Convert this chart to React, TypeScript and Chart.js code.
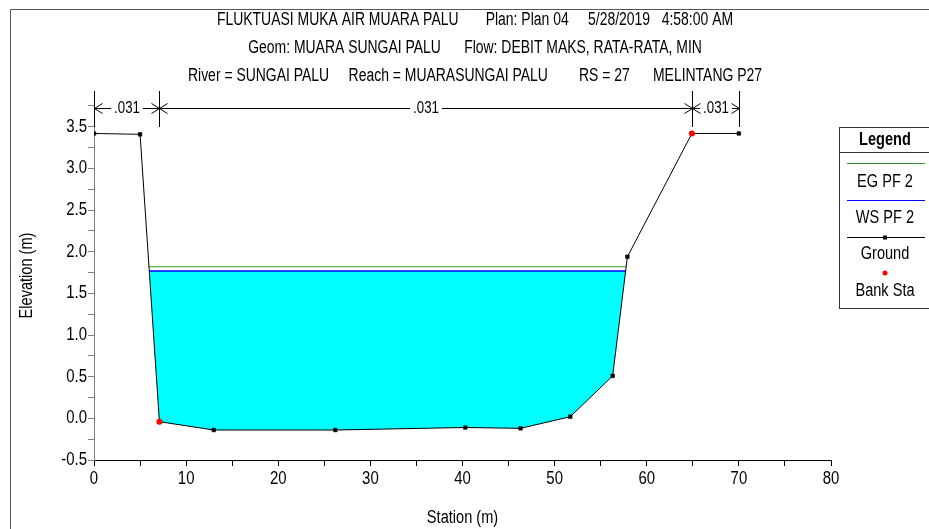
import React, { useEffect, useRef } from 'react';
import { Chart, registerables } from 'chart.js';

Chart.register(...registerables);

// ---------- data ----------
const titleLines = [
  'FLUKTUASI MUKA AIR MUARA PALU       Plan: Plan 04     5/28/2019   4:58:00 AM',
  'Geom: MUARA SUNGAI PALU      Flow: DEBIT MAKS, RATA-RATA, MIN',
  'River = SUNGAI PALU     Reach = MUARASUNGAI PALU        RS = 27      MELINTANG P27',
];
const stations = [0, 5, 7.1, 13, 26.2, 40.3, 46.3, 51.7, 56.3, 57.9, 64.9, 70];
const groundElev = [3.42, 3.41, -0.04, -0.14, -0.14, -0.11, -0.12, 0.02, 0.51, 1.94, 3.42, 3.42];
const bankStations = [7.1, 64.9];
const wsElev = 1.77;
const egElev = 1.82;
const manningBreaks = [0, 7.1, 64.9, 70];
const manningValues = ['.031', '.031', '.031'];
const xTickValues = [0, 5, 10, 15, 20, 25, 30, 35, 40, 45, 50, 55, 60, 65, 70, 75, 80];
const xLabelValues = [0, 10, 20, 30, 40, 50, 60, 70, 80];
const yTickValues = [-0.5, -0.25, 0, 0.25, 0.5, 0.75, 1, 1.25, 1.5, 1.75, 2, 2.25, 2.5, 2.75, 3, 3.25, 3.5, 3.75];
const yLabelValues = [-0.5, 0, 0.5, 1, 1.5, 2, 2.5, 3, 3.5];
const xTitle = 'Station (m)';
const yTitle = 'Elevation (m)';
const legendTitle = 'Legend';
const legendLabels = ['EG PF 2', 'WS PF 2', 'Ground', 'Bank Sta'];

const FAMILY = '"Liberation Sans", Arial, sans-serif';
const NARROW = 0.81;
const EG_COLOR = '#2e9a2e';
const WS_COLOR = '#0000ff';
const WATER_COLOR = '#00ffff';

function crossLeft(level: number): number {
  for (let i = 0; i < stations.length - 1; i++) {
    const a = groundElev[i], b = groundElev[i + 1];
    if (a >= level && b < level) return stations[i] + ((a - level) / (a - b)) * (stations[i + 1] - stations[i]);
  }
  return stations[0];
}
function crossRight(level: number): number {
  for (let i = stations.length - 2; i >= 0; i--) {
    const a = groundElev[i], b = groundElev[i + 1];
    if (a < level && b >= level) return stations[i] + ((level - a) / (b - a)) * (stations[i + 1] - stations[i]);
  }
  return stations[stations.length - 1];
}

function narrowText(
  ctx: CanvasRenderingContext2D, text: string, x: number, y: number,
  font: string, align: CanvasTextAlign = 'center', rot = 0, sx = NARROW,
) {
  ctx.save();
  ctx.font = font;
  ctx.textAlign = align;
  ctx.textBaseline = 'middle';
  ctx.translate(x, y);
  if (rot) ctx.rotate(rot);
  ctx.scale(sx, 1);
  ctx.fillText(text, 0, 0);
  ctx.restore();
}

function narrowWidth(ctx: CanvasRenderingContext2D, text: string, font: string, sx = NARROW) {
  ctx.save();
  ctx.font = font;
  const w = ctx.measureText(text).width * sx;
  ctx.restore();
  return w;
}

const overlay = {
  id: 'hecrasOverlay',
  afterDraw(chart: any) {
    const ctx: CanvasRenderingContext2D = chart.ctx;
    const xs = chart.scales.x;
    const ys = chart.scales.y;
    const area = chart.chartArea;
    ctx.save();
    // outer frame
    ctx.strokeStyle = '#555';
    ctx.lineWidth = 1;
    ctx.beginPath();
    ctx.moveTo(10.5, chart.height);
    ctx.lineTo(10.5, 9.5);
    ctx.lineTo(chart.width, 9.5);
    ctx.stroke();

    ctx.fillStyle = '#000';
    // titles
    const titleFont = `18px ${FAMILY}`;
    const titleY = [20, 48.5, 76.5];
    titleLines.forEach((t, i) => narrowText(ctx, t, 475, titleY[i], titleFont, 'center', 0, 0.775));

    // tick labels
    const tickFont = `18px ${FAMILY}`;
    xLabelValues.forEach((v) => narrowText(ctx, String(v), xs.getPixelForValue(v), area.bottom + 19.5, tickFont, 'center', 0, 0.83));
    yLabelValues.forEach((v) => narrowText(ctx, v.toFixed(1), area.left - 7, ys.getPixelForValue(v), tickFont, 'right', 0, 0.83));

    // axis titles
    narrowText(ctx, xTitle, (area.left + area.right) / 2, 518, `18px ${FAMILY}`);
    narrowText(ctx, yTitle, 27, (area.top + area.bottom) / 2, `18px ${FAMILY}`, 'center', -Math.PI / 2);

    // manning n markers
    ctx.strokeStyle = '#000';
    ctx.lineWidth = 1;
    const my = 108;
    const mFont = `17px ${FAMILY}`;
    manningBreaks.forEach((s) => {
      const px = Math.round(xs.getPixelForValue(s)) + 0.5;
      ctx.beginPath();
      ctx.moveTo(px, area.top);
      ctx.lineTo(px, area.top + 36);
      ctx.stroke();
    });
    for (let i = 0; i < manningValues.length; i++) {
      const l = Math.round(xs.getPixelForValue(manningBreaks[i])) + 0.5;
      const r = Math.round(xs.getPixelForValue(manningBreaks[i + 1])) + 0.5;
      const c = (l + r) / 2;
      const w = narrowWidth(ctx, manningValues[i], mFont, 0.78);
      narrowText(ctx, manningValues[i], c, my, mFont, 'center', 0, 0.78);
      ctx.beginPath();
      ctx.moveTo(l, my + 0.5);
      ctx.lineTo(c - w / 2 - 3, my + 0.5);
      ctx.moveTo(c + w / 2 + 3, my + 0.5);
      ctx.lineTo(r, my + 0.5);
      ctx.moveTo(l + 8, my - 4.5);
      ctx.lineTo(l, my + 0.5);
      ctx.lineTo(l + 8, my + 5.5);
      ctx.moveTo(r - 8, my - 4.5);
      ctx.lineTo(r, my + 0.5);
      ctx.lineTo(r - 8, my + 5.5);
      ctx.stroke();
    }

    // legend box
    const bl = 839.5, bt = 127.5, br = chart.width + 5, bb = 308.5;
    ctx.fillStyle = '#fff';
    ctx.fillRect(bl, bt, br - bl, bb - bt);
    ctx.strokeStyle = '#333';
    ctx.strokeRect(bl, bt, br - bl, bb - bt);
    ctx.beginPath();
    ctx.moveTo(bl, 152.5);
    ctx.lineTo(br, 152.5);
    ctx.stroke();
    const cx = 885;
    const lf = `18px ${FAMILY}`;
    ctx.fillStyle = '#000';
    narrowText(ctx, legendTitle, cx, 140, `bold 18px ${FAMILY}`);
    ctx.lineWidth = 1;
    ctx.strokeStyle = EG_COLOR;
    ctx.beginPath(); ctx.moveTo(847, 163.5); ctx.lineTo(925, 163.5); ctx.stroke();
    narrowText(ctx, legendLabels[0], cx, 182, lf);
    ctx.strokeStyle = WS_COLOR;
    ctx.beginPath(); ctx.moveTo(847, 200.5); ctx.lineTo(925, 200.5); ctx.stroke();
    narrowText(ctx, legendLabels[1], cx, 218, lf);
    ctx.strokeStyle = '#000';
    ctx.beginPath(); ctx.moveTo(847, 237.5); ctx.lineTo(925, 237.5); ctx.stroke();
    ctx.fillRect(cx - 2, 235.5, 4, 4);
    narrowText(ctx, legendLabels[2], cx, 254, lf);
    ctx.fillStyle = '#ff0000';
    ctx.beginPath(); ctx.arc(cx, 273, 2.5, 0, Math.PI * 2); ctx.fill();
    ctx.fillStyle = '#000';
    narrowText(ctx, legendLabels[3], cx, 291, lf);
    ctx.restore();
  },
};

export default function App() {
  const ref = useRef<HTMLCanvasElement | null>(null);
  useEffect(() => {
    if (!ref.current) return;
    const wl = crossLeft(wsElev), wr = crossRight(wsElev);
    const el = crossLeft(egElev), er = crossRight(egElev);
    const groundPts = stations.map((s, i) => ({ x: s, y: groundElev[i] }));
    const waterPts = [
      { x: wl, y: wsElev },
      ...groundPts.filter((p) => p.x > wl && p.x < wr),
      { x: wr, y: wsElev },
    ];
    const bankPts = bankStations.map((s) => ({ x: s, y: groundElev[stations.indexOf(s)] }));
    const chart = new Chart(ref.current, {
      type: 'scatter',
      data: {
        datasets: [
          { label: 'Bank Sta', data: bankPts, showLine: false, pointRadius: 3, pointBackgroundColor: '#ff0000', pointBorderColor: '#ff0000', pointBorderWidth: 0, order: 0 } as any,
          { label: 'Ground', data: groundPts, showLine: true, borderColor: '#000', borderWidth: 1, pointStyle: 'rect', pointRadius: 2.6, pointBackgroundColor: '#000', pointBorderColor: '#000', pointBorderWidth: 0.5, order: 1 } as any,
          { label: 'WS PF 2', data: [{ x: wl, y: wsElev }, { x: wr, y: wsElev }], showLine: true, borderColor: WS_COLOR, borderWidth: 1.5, pointRadius: 0, order: 2 } as any,
          { label: 'EG PF 2', data: [{ x: el, y: egElev }, { x: er, y: egElev }], showLine: true, borderColor: EG_COLOR, borderWidth: 1.2, pointRadius: 0, order: 3 } as any,
          { label: 'water', data: waterPts, showLine: true, borderWidth: 0, borderColor: 'rgba(0,0,0,0)', backgroundColor: WATER_COLOR, fill: 'shape', pointRadius: 0, order: 4 } as any,
        ],
      },
      options: {
        responsive: false,
        devicePixelRatio: 1,
        animation: false,
        events: [],
        layout: { padding: { left: 54, right: 98, top: 91, bottom: 39 } },
        plugins: { legend: { display: false }, title: { display: false }, tooltip: { enabled: false } },
        scales: {
          x: {
            type: 'linear', position: 'bottom', min: 0, max: 80,
            afterBuildTicks: (s: any) => { s.ticks = xTickValues.map((v) => ({ value: v })); },
            afterFit: (s: any) => { s.height = 30; },
            ticks: { display: false },
            grid: { drawOnChartArea: false, tickLength: 6, tickColor: '#000', color: '#000' },
            border: { color: '#000', width: 1 },
          },
          y: {
            type: 'linear', min: -0.5, max: 3.93,
            afterBuildTicks: (s: any) => { s.ticks = yTickValues.map((v) => ({ value: v })); },
            afterFit: (s: any) => { s.width = 40; },
            ticks: { display: false },
            grid: { drawOnChartArea: false, tickLength: 6, tickColor: '#808080', color: '#808080' },
            border: { color: '#808080', width: 1 },
          },
        },
      } as any,
      plugins: [overlay],
    });
    return () => chart.destroy();
  }, []);
  return (
    <div style={{ position: 'absolute', left: 0, top: 0, width: 929, height: 529 }}>
      <canvas ref={ref} width={929} height={529} style={{ display: 'block' }} />
    </div>
  );
}
